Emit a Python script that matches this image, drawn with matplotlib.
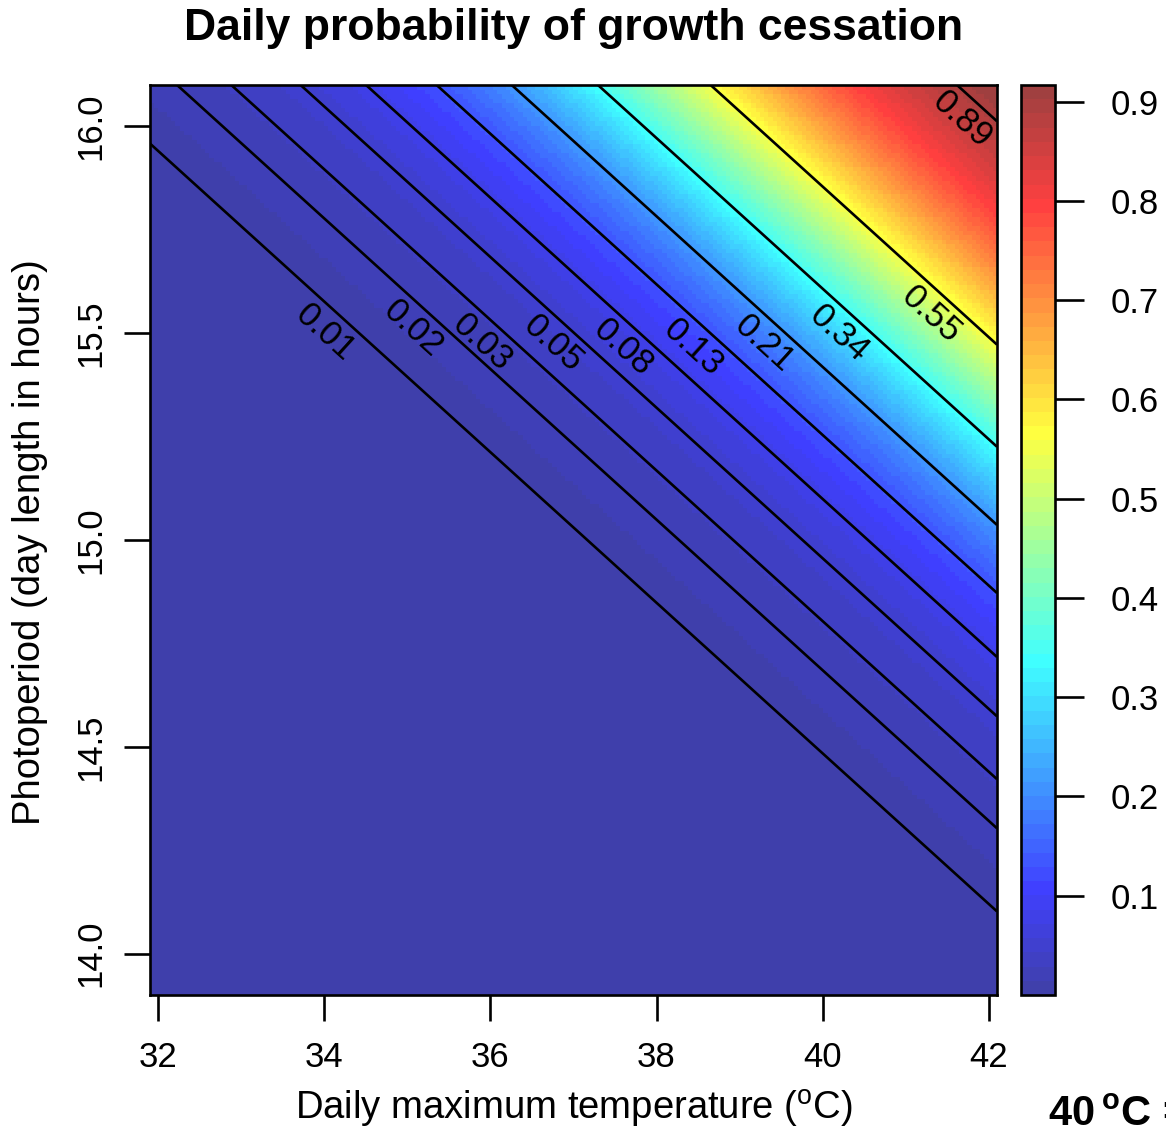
import numpy as np
import matplotlib.pyplot as plt
from matplotlib.colors import ListedColormap, Normalize, to_rgb
from matplotlib.cm import ScalarMappable

plt.rcParams["font.family"] = "Liberation Sans"
plt.rcParams["mathtext.fontset"] = "custom"
plt.rcParams["mathtext.rm"] = "Liberation Sans"
plt.rcParams["mathtext.bf"] = "Liberation Sans:bold"

# logistic model: logit(p) = a + b*temp + c*photoperiod
INTERCEPT = -80.77
COEF_TEMP = 0.637
COEF_PHOTO = 3.5

temp_range = [31.9, 42.1]
photo_range = [13.9, 16.1]

levels = [0.01, 0.02, 0.03, 0.05, 0.08, 0.13, 0.21, 0.34, 0.55, 0.89]
label_temps = [34.01, 35.07, 35.90, 36.75, 37.60, 38.44, 39.30, 40.20, 41.31, 41.68]

xticks = [32, 34, 36, 38, 40, 42]
yticks = [14.0, 14.5, 15.0, 15.5, 16.0]
cbar_ticks = [0.1, 0.2, 0.3, 0.4, 0.5, 0.6, 0.7, 0.8, 0.9]

# tim.colors style palette (64 colours), drawn with transparency over white
anchor_idx = [0, 7, 23, 39, 55, 63]
anchor_cols = ["#00008F", "#0000FF", "#00FFFF", "#FFFF00", "#FF0000", "#800000"]
ALPHA = 0.75


def make_cmap():
    rgb = np.array([to_rgb(c) for c in anchor_cols])
    idx = np.arange(64)
    cols = np.column_stack([np.interp(idx, anchor_idx, rgb[:, k]) for k in range(3)])
    cols = ALPHA * cols + (1 - ALPHA)
    return ListedColormap(cols)


def logit(p):
    return np.log(p / (1 - p))


def main():
    cmap = make_cmap()

    temp = np.linspace(temp_range[0], temp_range[1], 200)
    photo = np.linspace(photo_range[0], photo_range[1], 200)
    T, P = np.meshgrid(temp, photo)
    Z = 1 / (1 + np.exp(-(INTERCEPT + COEF_TEMP * T + COEF_PHOTO * P)))
    norm = Normalize(Z.min(), Z.max())

    fig = plt.figure(figsize=(11.66, 11.3), dpi=100)
    ax = fig.add_axes([150 / 1166, 1 - 995 / 1130, 847 / 1166, 910 / 1130])
    cax = fig.add_axes([1021 / 1166, 1 - 995 / 1130, 34 / 1166, 910 / 1130])

    ax.imshow(Z, origin="lower", extent=temp_range + photo_range, cmap=cmap,
              norm=norm, aspect="auto", interpolation="nearest")
    ax.contour(T, P, Z, levels=levels, colors="black", linewidths=1.9)

    # contour labels sit just below their line, rotated along it
    angle = np.degrees(np.arctan2(-COEF_TEMP / COEF_PHOTO, 1))
    for lev, x in zip(levels, label_temps):
        y = (logit(lev) - INTERCEPT - COEF_TEMP * x) / COEF_PHOTO - 0.072
        ax.text(x, y, f"{lev:.2f}", rotation=angle, transform_rotates_text=True,
                rotation_mode="anchor", ha="center", va="center", fontsize=25)

    ax.set_xlim(temp_range)
    ax.set_ylim(photo_range)
    ax.set_xticks(xticks)
    ax.set_xticklabels([str(t) for t in xticks])
    ax.set_yticks(yticks)
    ax.set_yticklabels([f"{t:.1f}" for t in yticks], rotation=90, va="center")
    ax.tick_params(axis="both", direction="out", length=19, width=1.9, labelsize=25)
    ax.tick_params(axis="x", pad=14)
    ax.tick_params(axis="y", pad=12)
    for s in ax.spines.values():
        s.set_linewidth(1.9)

    sm = ScalarMappable(norm=norm, cmap=cmap)
    cb = fig.colorbar(sm, cax=cax)
    cb.set_ticks(cbar_ticks)
    cb.set_ticklabels([f"{t:.1f}" for t in cbar_ticks])
    cax.tick_params(direction="out", length=21, width=1.9, labelsize=25, pad=19)
    cb.outline.set_linewidth(1.9)

    fig.text(574 / 1166, 1 - 40 / 1130, "Daily probability of growth cessation",
             ha="center", va="baseline", fontsize=32, fontweight="bold")
    fig.text(574 / 1166, 1 - 1109 / 1130, r"Daily maximum temperature ($^{\mathrm{o}}$C)",
             ha="center", va="center", fontsize=27.5)
    fig.text(30 / 1166, 1 - 542 / 1130, "Photoperiod (day length in hours)",
             ha="center", va="center", rotation=90, fontsize=27.5)
    fig.text(1048 / 1166, 1 - 1126 / 1130, r"40$\,^{\mathbf{o}}$C =",
             ha="left", va="baseline", fontsize=30, fontweight="bold")

    fig.savefig("out.png", dpi=100)
    plt.close(fig)


if __name__ == "__main__":
    main()
